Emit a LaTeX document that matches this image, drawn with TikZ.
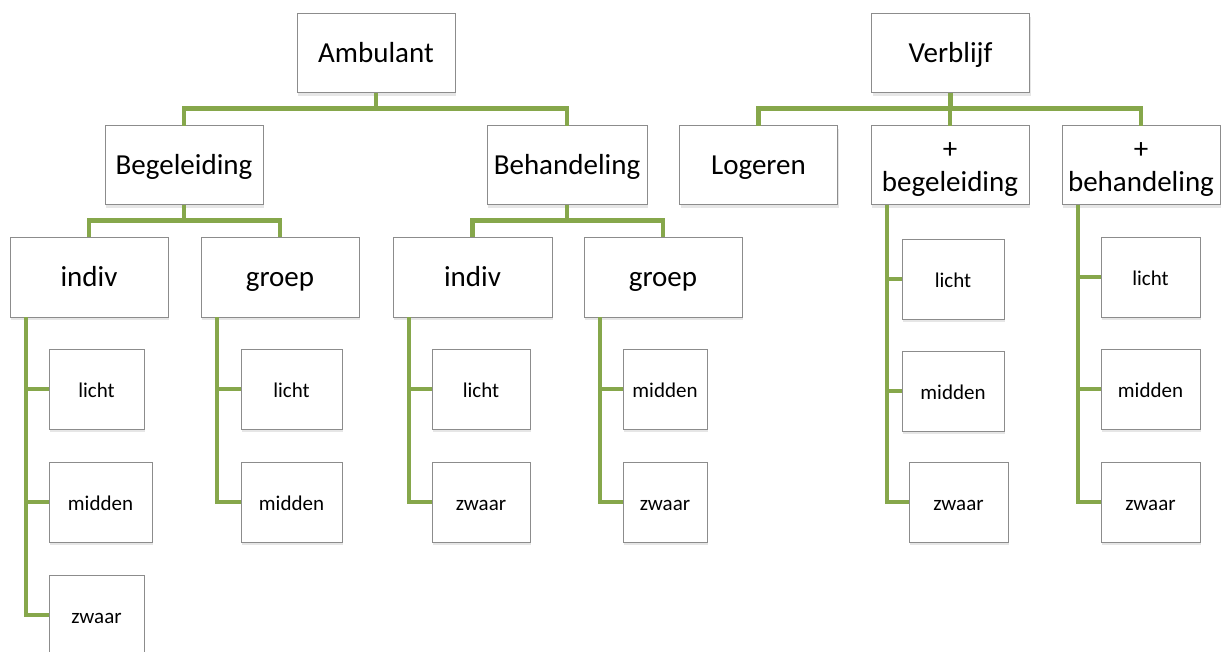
\documentclass[tikz,border=0pt]{standalone}
\usepackage{fontspec}
\setmainfont{Carlito}
\usetikzlibrary{shadows}
\definecolor{leafgreen}{RGB}{134,167,75}
\definecolor{boxgray}{RGB}{140,140,140}

\begin{document}
\begin{tikzpicture}[x=1pt,y=-1pt,
  box/.style={draw=boxgray,line width=1pt,fill=white,inner sep=0pt,outer sep=0pt,align=center,
    drop shadow={opacity=0.2,shadow xshift=1pt,shadow yshift=-3pt}},
  big/.style={box,minimum width=158pt,minimum height=79pt,font=\fontsize{29}{33}\selectfont,
    text height=23.2pt,text depth=4.1pt},
  small/.style={box,minimum height=80pt,font=\fontsize{21}{24}\selectfont,
    text height=16.8pt,text depth=0.8pt},
  link/.style={draw=leafgreen,line width=4.5pt}]
\useasboundingbox (0,0) rectangle (1221,651);

\node [big] (amb) at (376,53) {Ambulant};
\node [big] (ver) at (950.5,53) {Verblijf};

\node [big] (beg) at (184,165) {Begeleiding};
\node [big,minimum width=160pt] (beh) at (567,165) {Behandeling};
\node [big] (log) at (758.5,165) {Logeren};
\node [big,text height=56.2pt] (pbeg) at (950,165) {+\\begeleiding};
\node [big,text height=56.2pt] (pbeh) at (1141,165) {+\\behandeling};

\node [big,minimum height=80pt] (bi) at (89,277) {indiv};
\node [big,minimum height=80pt] (bg) at (280,277) {groep};
\node [big,minimum height=80pt,minimum width=159pt] (hi) at (472.5,277) {indiv};
\node [big,minimum height=80pt] (hg) at (663,277) {groep};

\node [small,minimum width=95pt] (bil) at (96.5,389) {licht};
\node [small,minimum width=103pt] (bim) at (100.5,502) {midden};
\node [small,minimum width=95pt] (biz) at (96.5,615) {zwaar};
\node [small,minimum width=101pt] (bgl) at (291.5,389) {licht};
\node [small,minimum width=101pt] (bgm) at (291.5,502) {midden};
\node [small,minimum width=98pt] (hil) at (481,389) {licht};
\node [small,minimum width=98pt] (hiz) at (481,502) {zwaar};
\node [small,minimum width=84pt] (hgm) at (665,389) {midden};
\node [small,minimum width=84pt] (hgz) at (665,502) {zwaar};
\node [small,minimum width=102pt] (pbl) at (953,279) {licht};
\node [small,minimum width=102pt] (pbm) at (953,391) {midden};
\node [small,minimum width=99pt] (pbz) at (958.5,502) {zwaar};
\node [small,minimum width=99pt] (phl) at (1150.5,277) {licht};
\node [small,minimum width=99pt] (phm) at (1150.5,389) {midden};
\node [small,minimum width=99pt] (phz) at (1150.5,502) {zwaar};

% top levels
\draw [link] (amb.south) -- ++(0,16) -| (beg.north);
\draw [link] (amb.south) -- ++(0,16) -| (beh.north);
\draw [link] (ver.south) -- ++(0,16) -| (log.north);
\draw [link] (ver.south) -- ++(0,16) -| (pbeg.north);
\draw [link] (ver.south) -- ++(0,16) -| (pbeh.north);
\draw [link] (beg.south) -- ++(0,16) -| (bi.north);
\draw [link] (beg.south) -- ++(0,16) -| (bg.north);
\draw [link] (beh.south) -- ++(0,16) -| (hi.north);
\draw [link] (beh.south) -- ++(0,16) -| (hg.north);

% side branches
\draw [link] ([xshift=16pt]bi.south west) |- (bil.west);
\draw [link] ([xshift=16pt]bi.south west) |- (bim.west);
\draw [link] ([xshift=16pt]bi.south west) |- (biz.west);
\draw [link] ([xshift=16pt]bg.south west) |- (bgl.west);
\draw [link] ([xshift=16pt]bg.south west) |- (bgm.west);
\draw [link] ([xshift=16pt]hi.south west) |- (hil.west);
\draw [link] ([xshift=16pt]hi.south west) |- (hiz.west);
\draw [link] ([xshift=16pt]hg.south west) |- (hgm.west);
\draw [link] ([xshift=16pt]hg.south west) |- (hgz.west);
\draw [link] ([xshift=16pt]pbeg.south west) |- (pbl.west);
\draw [link] ([xshift=16pt]pbeg.south west) |- (pbm.west);
\draw [link] ([xshift=16pt]pbeg.south west) |- (pbz.west);
\draw [link] ([xshift=16pt]pbeh.south west) |- (phl.west);
\draw [link] ([xshift=16pt]pbeh.south west) |- (phm.west);
\draw [link] ([xshift=16pt]pbeh.south west) |- (phz.west);

\end{tikzpicture}
\end{document}
